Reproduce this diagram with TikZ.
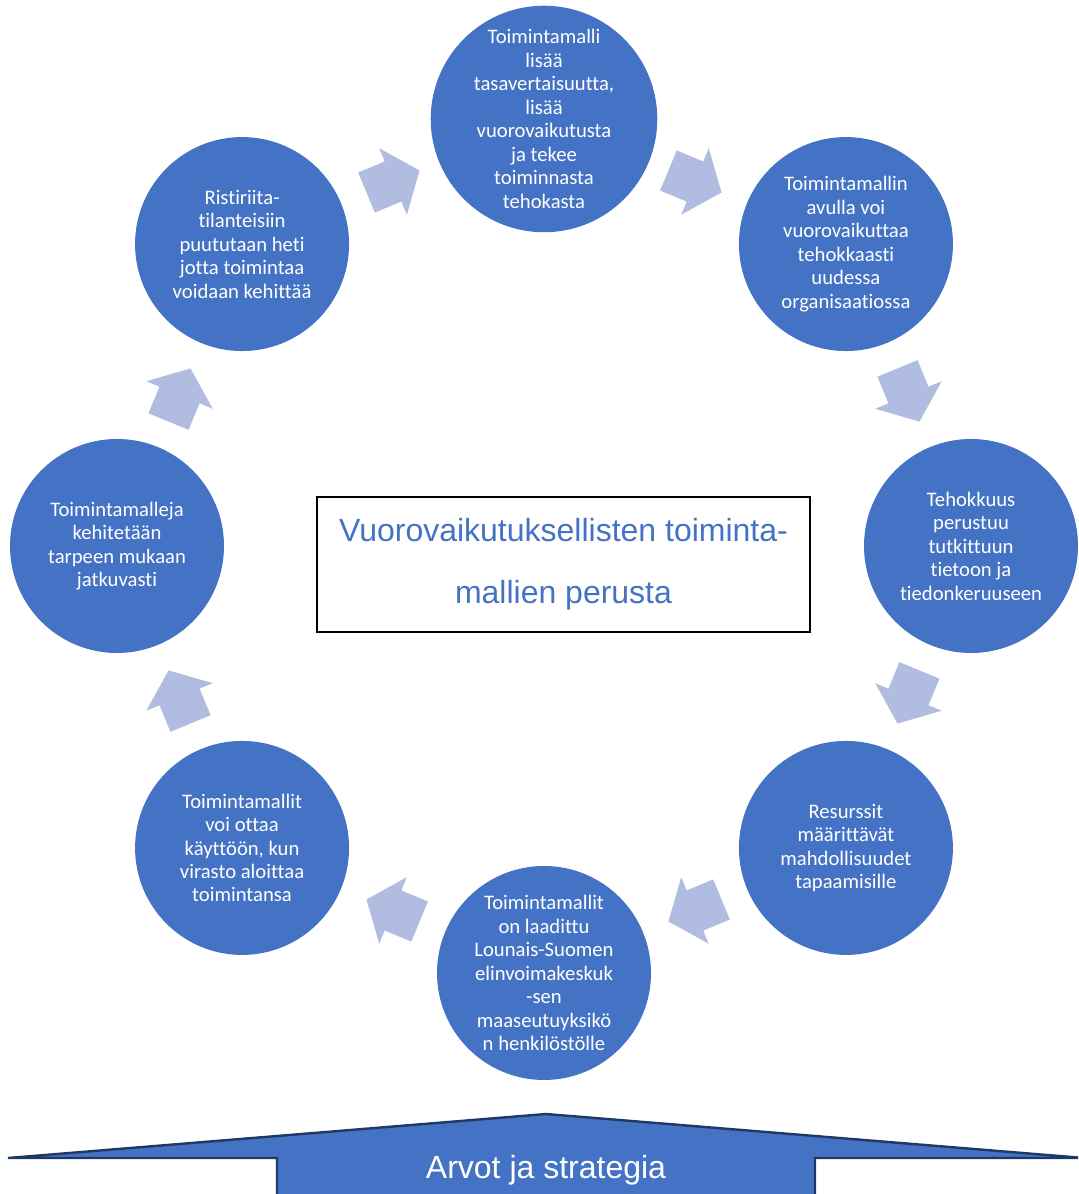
\documentclass[tikz,border=0pt]{standalone}
\usepackage{fontspec}
\setmainfont{Carlito}[Ligatures=NoCommon]
\newfontfamily\arialfont{Liberation Sans}
\usetikzlibrary{calc}

\definecolor{ringblue}{HTML}{4472C4}
\definecolor{arrowblue}{RGB}{176,188,224}
\definecolor{edgenavy}{HTML}{1F3864}

\tikzset{
  bubble/.style={circle, fill=ringblue, minimum size=160.5pt, inner sep=0pt, text=white, align=center, font=\fontsize{15.5}{17.6}\selectfont},
  flowarrow/.style={fill=arrowblue},
  titlebox/.style={draw=black, line width=0.9pt, minimum width=369.75pt, minimum height=101.25pt, text=ringblue, align=center, font=\arialfont\fontsize{24}{46.5}\selectfont},
  basearrow/.style={fill=ringblue, draw=edgenavy, line width=1.8pt, line join=miter}
}

\begin{document}
\begin{tikzpicture}[x=0.75pt, y=0.75pt]
\useasboundingbox (0,0) rectangle (1078,1194);
\clip (0,0) rectangle (1078,1194);
\coordinate (ring) at (544,648);
\node[bubble] (tasa) at ($(ring)+(90:427)$) {Toimintamalli\\lisää\\tasavertaisuutta,\\lisää\\vuorovaikutusta\\ja tekee\\toiminnasta\\tehokasta};
\node[bubble] (avulla) at ($(ring)+(45:427)$) {Toimintamallin\\avulla voi\\vuorovaikuttaa\\tehokkaasti\\uudessa\\organisaatiossa};
\node[bubble] (tehok) at ($(ring)+(0:427)$) {Tehokkuus\\perustuu\\tutkittuun\\tietoon ja\\tiedonkeruuseen};
\node[bubble] (resurs) at ($(ring)+(-45:427)$) {Resurssit\\määrittävät\\mahdollisuudet\\tapaamisille};
\node[bubble] (laadittu) at ($(ring)+(-90:427)$) {Toimintamallit\\on laadittu\\Lounais-Suomen\\elinvoimakeskuk\\-sen\\maaseutuyksikö\\n henkilöstölle};
\node[bubble] (kaytto) at ($(ring)+(-135:427)$) {Toimintamallit\\voi ottaa\\käyttöön, kun\\virasto aloittaa\\toimintansa};
\node[bubble] (kehit) at ($(ring)+(180:427)$) {Toimintamalleja\\kehitetään\\tarpeen mukaan\\jatkuvasti};
\node[bubble] (ristir) at ($(ring)+(135:427)$) {Ristiriita-\\tilanteisiin\\puututaan heti\\jotta toimintaa\\voidaan kehittää};
% block arrows between neighbouring circles
\foreach \p/\q/\r in {ristir/tasa/22.5, tasa/avulla/-22.5, avulla/tehok/-67.5, tehok/resurs/-112.5, resurs/laadittu/-157.5, laadittu/kaytto/-202.5, kaytto/kehit/-247.5, kehit/ristir/-292.5}
  \fill[flowarrow, shift={($(\p.center)!0.5!(\q.center)$)}, rotate=\r] (-28.75,-21.7) -- (0,-21.7) -- (0,-36) -- (28.75,0) -- (0,36) -- (0,21.7) -- (-28.75,21.7) -- cycle;
\node[titlebox] (otsikko) at (563.5,629.5) {Vuorovaikutuksellisten toiminta-\\mallien perusta};
% base arrow
\draw[basearrow] (8,36) -- (546,80) -- (1084,36) -- (815,36) -- (815,-10) -- (277,-10) -- (277,36) -- cycle;
\node[text=white, font=\arialfont\fontsize{24}{28}\selectfont] (arvot) at (546,24) {Arvot ja strategia};
\end{tikzpicture}
\end{document}
